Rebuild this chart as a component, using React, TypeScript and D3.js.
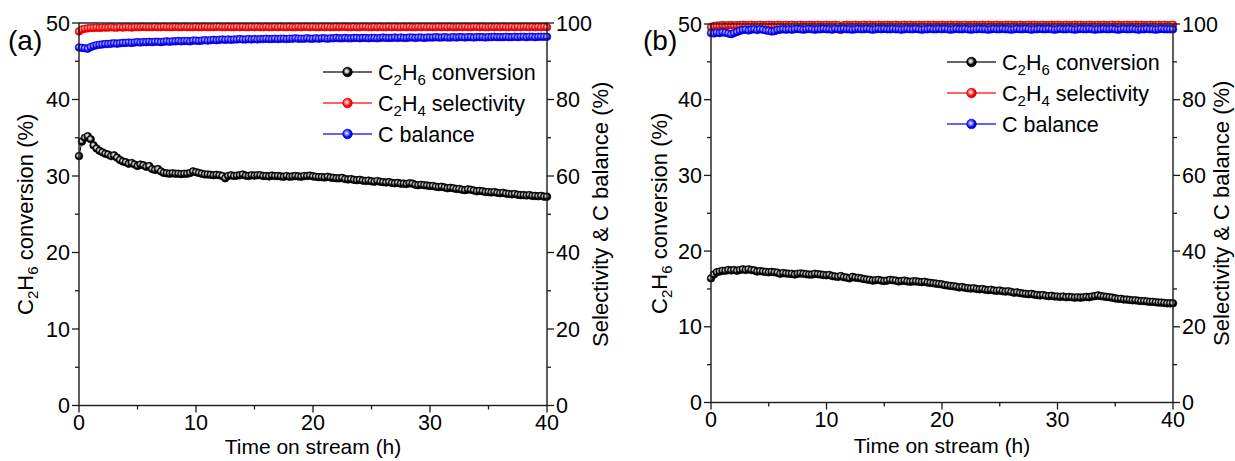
import React from "react";
import * as d3 from "d3";

// ---- data ----
const timeStep = 0.25; // h between samples
const xTicks = [0, 10, 20, 30, 40];
const xMinor = [5, 15, 25, 35];
const leftTicks = [0, 10, 20, 30, 40, 50];
const leftMinor = [5, 15, 25, 35, 45];
const rightTicks = [0, 20, 40, 60, 80, 100];
const rightMinor = [10, 30, 50, 70, 90];

// Panel (a)
const convA = [
  32.6, 34.5, 35.0, 35.2, 34.8, 34.0, 33.6, 33.3, 33.1, 32.9, 32.8, 32.6, 32.7, 32.4, 32.1, 31.9, 31.8, 31.6, 31.7, 31.5,
  31.3, 31.5, 31.4, 31.2, 31.3, 30.9, 30.8, 30.9, 30.6, 30.4, 30.35, 30.3, 30.35, 30.3, 30.3, 30.25, 30.3, 30.3, 30.4, 30.6,
  30.5, 30.4, 30.3, 30.2, 30.2, 30.15, 30.1, 30.15, 30.1, 30.0, 29.7, 30.0, 30.1, 30.0, 30.05, 30.1, 30.2, 30.05, 30.0, 30.1,
  30.05, 30.1, 30.1, 30.0, 30.0, 29.95, 30.05, 30.0, 30.0, 29.95, 29.9, 30.0, 29.9, 29.95, 30.0, 29.95, 29.9, 30.0, 30.0, 30.05,
  29.95, 29.9, 29.85, 29.85, 29.8, 29.9, 29.8, 29.75, 29.7, 29.7, 29.75, 29.6, 29.55, 29.6, 29.5, 29.45, 29.5, 29.4, 29.35, 29.4,
  29.3, 29.25, 29.35, 29.25, 29.2, 29.15, 29.2, 29.1, 29.05, 29.1, 29.0, 29.0, 28.95, 29.05, 29.0, 28.85, 28.8, 28.85, 28.8, 28.75,
  28.7, 28.7, 28.6, 28.55, 28.6, 28.5, 28.4, 28.45, 28.4, 28.3, 28.3, 28.2, 28.15, 28.25, 28.2, 28.1, 28.0, 28.05, 28.0, 27.9,
  27.9, 27.85, 27.9, 27.8, 27.75, 27.8, 27.7, 27.65, 27.6, 27.65, 27.55, 27.5, 27.5, 27.45, 27.5, 27.4, 27.4, 27.35, 27.4, 27.3,
  27.3,
];
const selA = [
  97.8, 98.3, 98.5, 98.6, 98.7, 98.7, 98.8, 98.7, 98.8, 98.8, 98.8, 98.9, 98.8, 98.8, 98.9, 98.8, 98.9, 98.9, 98.8, 98.9,
  98.9, 98.9, 99.0, 98.9, 98.9, 98.9, 99.0, 98.9, 98.9, 99.0, 98.9, 98.9, 98.9, 99.0, 98.9, 98.9, 99.0, 98.9, 98.9, 98.9,
  99.0, 98.9, 98.9, 99.0, 98.9, 98.9, 98.9, 99.0, 99.0, 98.9, 98.9, 99.0, 98.9, 98.9, 99.0, 98.9, 99.0, 98.9, 98.9, 99.0,
  98.9, 99.0, 98.9, 98.9, 99.0, 98.9, 98.9, 99.0, 98.9, 99.0, 98.9, 98.9, 99.0, 98.9, 98.9, 99.0, 98.9, 99.0, 99.0, 98.9,
  99.0, 98.9, 98.9, 99.0, 98.9, 99.0, 98.9, 98.9, 99.0, 98.9, 99.0, 99.0, 98.9, 98.9, 99.0, 98.9, 98.9, 99.0, 99.0, 98.9,
  98.9, 99.0, 98.9, 99.0, 98.9, 98.9, 99.0, 98.9, 99.0, 98.9, 98.9, 99.0, 98.9, 99.0, 98.9, 98.9, 99.0, 98.9, 99.0, 98.9,
  99.0, 98.9, 98.9, 99.0, 98.9, 99.0, 98.9, 99.0, 98.9, 98.9, 99.0, 98.9, 99.0, 98.9, 98.9, 99.0, 99.0, 98.9, 99.0, 98.9,
  98.9, 99.0, 98.9, 99.0, 98.9, 99.0, 98.9, 98.9, 99.0, 98.9, 99.0, 98.9, 99.0, 99.0, 98.9, 99.0, 98.9, 99.0, 98.9, 99.0,
  98.9,
];
const balA = [
  93.6, 93.5, 93.4, 93.3, 93.7, 94.0, 94.2, 94.3, 94.4, 94.5, 94.5, 94.6, 94.7, 94.6, 94.7, 94.8, 94.8, 94.9, 94.8, 94.9,
  95.0, 94.9, 95.0, 95.0, 95.1, 95.0, 95.1, 95.1, 95.0, 95.1, 95.2, 95.1, 95.2, 95.2, 95.3, 95.2, 95.3, 95.3, 95.2, 95.4,
  95.4, 95.3, 95.4, 95.5, 95.4, 95.5, 95.6, 95.5, 95.6, 95.7, 95.6, 95.7, 95.6, 95.7, 95.7, 95.8, 95.7, 95.7, 95.8, 95.7,
  95.8, 95.7, 95.8, 95.8, 95.9, 95.8, 95.8, 95.9, 95.8, 95.9, 95.9, 95.8, 95.9, 95.9, 96.0, 95.9, 95.9, 95.9, 96.0, 95.9,
  95.9, 96.0, 95.9, 96.0, 96.0, 95.9, 96.0, 96.0, 96.1, 96.0, 96.0, 96.1, 96.0, 96.0, 96.1, 96.1, 96.0, 96.1, 96.1, 96.0,
  96.1, 96.1, 96.0, 96.1, 96.2, 96.1, 96.1, 96.1, 96.2, 96.1, 96.2, 96.1, 96.1, 96.2, 96.2, 96.1, 96.2, 96.2, 96.1, 96.2,
  96.2, 96.2, 96.3, 96.2, 96.2, 96.3, 96.2, 96.2, 96.3, 96.2, 96.3, 96.3, 96.2, 96.3, 96.3, 96.2, 96.3, 96.3, 96.3, 96.2,
  96.3, 96.3, 96.4, 96.3, 96.3, 96.3, 96.4, 96.3, 96.3, 96.4, 96.3, 96.4, 96.4, 96.3, 96.4, 96.4, 96.3, 96.4, 96.4, 96.4,
  96.4,
];

// Panel (b)
const convB = [
  16.4, 16.9, 17.2, 17.3, 17.4, 17.4, 17.5, 17.45, 17.5, 17.4, 17.5, 17.6, 17.5, 17.6, 17.5, 17.45, 17.3, 17.35, 17.3, 17.25,
  17.2, 17.25, 17.2, 17.15, 17.0, 17.1, 17.05, 17.0, 17.0, 16.9, 17.0, 17.05, 17.0, 16.95, 16.9, 16.9, 17.0, 16.95, 16.9, 16.85,
  16.8, 16.85, 16.7, 16.65, 16.6, 16.7, 16.55, 16.5, 16.4, 16.6, 16.5, 16.45, 16.4, 16.3, 16.25, 16.2, 16.1, 16.15, 16.2, 16.1,
  16.05, 16.1, 16.2, 16.15, 16.1, 16.0, 16.05, 16.1, 16.0, 15.95, 16.0, 16.0, 15.95, 15.9, 15.95, 15.85, 15.8, 15.75, 15.7, 15.65,
  15.6, 15.5, 15.45, 15.4, 15.35, 15.3, 15.2, 15.25, 15.15, 15.1, 15.05, 15.1, 15.0, 14.95, 15.0, 14.9, 14.85, 14.9, 14.8, 14.75,
  14.8, 14.7, 14.65, 14.7, 14.6, 14.5, 14.55, 14.45, 14.4, 14.35, 14.3, 14.35, 14.25, 14.2, 14.15, 14.2, 14.1, 14.05, 14.1, 14.0,
  14.0, 13.95, 14.0, 13.9, 13.95, 13.9, 13.85, 13.9, 13.85, 13.9, 13.95, 13.9, 14.0, 14.05, 14.15, 14.05, 14.0, 13.95, 13.9, 13.85,
  13.75, 13.7, 13.7, 13.6, 13.6, 13.55, 13.5, 13.5, 13.45, 13.4, 13.4, 13.35, 13.3, 13.3, 13.25, 13.2, 13.2, 13.15, 13.1, 13.1,
  13.1,
];
const selB = [
  99.2, 99.5, 99.6, 99.6, 99.7, 99.6, 99.7, 99.7, 99.6, 99.7, 99.7, 99.8, 99.7, 99.7, 99.8, 99.7, 99.7, 99.8, 99.7, 99.7,
  99.8, 99.7, 99.7, 99.8, 99.7, 99.7, 99.8, 99.7, 99.8, 99.7, 99.7, 99.8, 99.7, 99.7, 99.8, 99.7, 99.7, 99.8, 99.7, 99.7,
  99.8, 99.7, 99.7, 99.8, 99.7, 98.4, 99.7, 99.8, 99.7, 99.7, 99.8, 99.7, 99.7, 99.8, 99.7, 99.8, 99.7, 99.7, 99.8, 99.7,
  99.7, 99.8, 99.7, 99.7, 99.8, 99.7, 99.7, 99.8, 99.7, 99.8, 99.7, 99.7, 99.8, 99.7, 99.7, 99.8, 99.7, 99.8, 99.7, 99.7,
  99.8, 99.7, 99.7, 99.8, 99.7, 99.8, 99.7, 99.7, 99.8, 99.7, 99.7, 99.8, 99.7, 99.7, 99.8, 99.7, 99.8, 99.7, 99.7, 99.8,
  99.7, 99.7, 99.8, 99.7, 99.8, 99.7, 99.7, 99.8, 99.7, 99.7, 99.8, 99.7, 99.8, 99.7, 99.7, 99.8, 99.7, 99.7, 99.8, 99.7,
  99.8, 99.7, 99.7, 99.8, 99.7, 99.7, 99.8, 99.7, 99.8, 99.7, 99.7, 99.8, 99.7, 99.7, 99.8, 99.7, 99.8, 99.7, 99.7, 99.8,
  99.7, 99.8, 99.7, 99.7, 99.8, 99.7, 99.7, 99.8, 99.7, 99.8, 99.7, 99.7, 99.8, 99.7, 99.7, 99.8, 99.7, 99.8, 99.7, 99.7,
  99.8,
];
const balB = [
  97.6, 97.5, 97.7, 97.6, 97.8, 97.7, 97.5, 97.3, 97.6, 97.9, 98.2, 98.4, 98.5, 98.3, 98.5, 98.6, 98.4, 98.6, 98.5, 98.3,
  98.2, 98.0, 98.1, 98.4, 98.5, 98.6, 98.5, 98.6, 98.5, 98.6, 98.7, 98.6, 98.5, 98.6, 98.7, 98.6, 98.5, 98.6, 98.6, 98.7,
  98.6, 98.6, 98.5, 98.7, 98.6, 98.6, 98.7, 98.6, 98.6, 98.5, 98.6, 98.7, 98.6, 98.6, 98.7, 98.6, 98.5, 98.6, 98.7, 98.6,
  98.7, 98.6, 98.6, 98.7, 98.6, 98.6, 98.5, 98.6, 98.7, 98.6, 98.6, 98.7, 98.6, 98.5, 98.6, 98.6, 98.7, 98.6, 98.6, 98.7,
  98.6, 98.7, 98.6, 98.5, 98.6, 98.7, 98.6, 98.6, 98.7, 98.6, 98.5, 98.6, 98.6, 98.7, 98.6, 98.6, 98.5, 98.6, 98.7, 98.6,
  98.6, 98.7, 98.6, 98.6, 98.5, 98.6, 98.7, 98.6, 98.6, 98.7, 98.6, 98.5, 98.6, 98.6, 98.7, 98.6, 98.6, 98.7, 98.6, 98.5,
  98.6, 98.7, 98.6, 98.6, 98.7, 98.6, 98.5, 98.6, 98.7, 98.6, 98.6, 98.7, 98.6, 98.5, 98.6, 98.6, 98.7, 98.6, 98.6, 98.7,
  98.6, 98.5, 98.6, 98.7, 98.6, 98.6, 98.7, 98.6, 98.5, 98.6, 98.6, 98.7, 98.6, 98.6, 98.5, 98.6, 98.7, 98.6, 98.6, 98.6,
  98.6,
];

const FONT = "'Liberation Sans', Arial, Helvetica, sans-serif";
const AXIS = "#1a1a1a";

type Piece = { t: string; sub?: boolean };
const convTitle: Piece[] = [{ t: "C" }, { t: "2", sub: true }, { t: "H" }, { t: "6", sub: true }, { t: " conversion (%)" }];
const convLegend: Piece[] = [{ t: "C" }, { t: "2", sub: true }, { t: "H" }, { t: "6", sub: true }, { t: " conversion" }];
const selLegend: Piece[] = [{ t: "C" }, { t: "2", sub: true }, { t: "H" }, { t: "4", sub: true }, { t: " selectivity" }];
const balLegend: Piece[] = [{ t: "C balance" }];

function Rich({ pieces, subSize }: { pieces: Piece[]; subSize: number }) {
  let prevSub = false;
  return (
    <>
      {pieces.map((pc, i) => {
        let dy = 0;
        if (pc.sub && !prevSub) dy = 5;
        if (!pc.sub && prevSub) dy = -5;
        prevSub = !!pc.sub;
        return (
          <tspan key={i} dy={dy} fontSize={pc.sub ? subSize : undefined} style={{ whiteSpace: "pre" }}>
            {pc.t}
          </tspan>
        );
      })}
    </>
  );
}

function Series({ values, x, y, color, grad, r }: any) {
  const pts = values.map((v: number, i: number) => [x(i * timeStep), y(v)] as [number, number]);
  const line = d3.line()(pts) || "";
  return (
    <g>
      <path d={line} fill="none" stroke={color} strokeWidth={1} />
      {pts.map((p: [number, number], i: number) => (
        <circle key={i} cx={p[0]} cy={p[1]} r={r} fill={`url(#${grad})`} stroke={color} strokeWidth={0.7} />
      ))}
    </g>
  );
}

type PanelProps = {
  label: string;
  x0: number; x1: number; yTop: number; yBot: number;
  conv: number[]; sel: number[]; bal: number[];
  legendX: number; legendY: number;
  leftTitleX: number; rightTitleX: number;
  xTickY: number; xTitleY: number; labelX: number;
};

function Panel(p: PanelProps) {
  const x = d3.scaleLinear().domain([0, 40]).range([p.x0, p.x1]);
  const yL = d3.scaleLinear().domain([0, 50]).range([p.yBot, p.yTop]);
  const yR = d3.scaleLinear().domain([0, 100]).range([p.yBot, p.yTop]);
  const cy = (p.yTop + p.yBot) / 2;
  const cx = (p.x0 + p.x1) / 2;
  const legend = [
    { key: "conv", color: "#000", line: "#333", grad: "gBlack", pieces: convLegend },
    { key: "sel", color: "#e00000", line: "#ff3030", grad: "gRed", pieces: selLegend },
    { key: "bal", color: "#0000e0", line: "#3030ff", grad: "gBlue", pieces: balLegend },
  ];
  return (
    <g fontFamily={FONT} fill="#000">
      <Series values={p.conv} x={x} y={yL} color="#000" grad="gBlack" r={3.8} />
      <Series values={p.sel} x={x} y={yR} color="#e00000" grad="gRed" r={3.8} />
      <Series values={p.bal} x={x} y={yR} color="#0000e0" grad="gBlue" r={3.8} />

      <rect x={p.x0} y={p.yTop} width={p.x1 - p.x0} height={p.yBot - p.yTop} fill="none" stroke={AXIS} strokeWidth={1.4} />

      {leftTicks.map((t) => (
        <g key={"l" + t}>
          <line x1={p.x0 - 7} x2={p.x0} y1={yL(t)} y2={yL(t)} stroke={AXIS} strokeWidth={1.3} />
          <text x={p.x0 - 9} y={yL(t)} dy="0.35em" textAnchor="end" fontSize={21.5}>{t}</text>
        </g>
      ))}
      {leftMinor.map((t) => (
        <line key={"lm" + t} x1={p.x0 - 4} x2={p.x0} y1={yL(t)} y2={yL(t)} stroke={AXIS} strokeWidth={1.3} />
      ))}
      {rightTicks.map((t) => (
        <g key={"r" + t}>
          <line x1={p.x1} x2={p.x1 + 7} y1={yR(t)} y2={yR(t)} stroke={AXIS} strokeWidth={1.3} />
          <text x={p.x1 + 9} y={yR(t)} dy="0.35em" textAnchor="start" fontSize={21.5}>{t}</text>
        </g>
      ))}
      {rightMinor.map((t) => (
        <line key={"rm" + t} x1={p.x1} x2={p.x1 + 4} y1={yR(t)} y2={yR(t)} stroke={AXIS} strokeWidth={1.3} />
      ))}
      {xTicks.map((t) => (
        <g key={"x" + t}>
          <line x1={x(t)} x2={x(t)} y1={p.yBot} y2={p.yBot + 7} stroke={AXIS} strokeWidth={1.3} />
          <text x={x(t)} y={p.xTickY} textAnchor="middle" fontSize={21.5}>{t}</text>
        </g>
      ))}
      {xMinor.map((t) => (
        <line key={"xm" + t} x1={x(t)} x2={x(t)} y1={p.yBot} y2={p.yBot + 4} stroke={AXIS} strokeWidth={1.3} />
      ))}

      <text x={cx} y={p.xTitleY} textAnchor="middle" fontSize={21}>Time on stream (h)</text>
      <text transform={`translate(${p.leftTitleX},${cy}) rotate(-90)`} textAnchor="middle" fontSize={22}>
        <Rich pieces={convTitle} subSize={15} />
      </text>
      <text transform={`translate(${p.rightTitleX},${cy}) rotate(-90)`} textAnchor="middle" fontSize={22}>
        Selectivity &amp; C balance (%)
      </text>
      <text x={p.labelX} y={50} fontSize={28}>{p.label}</text>

      {legend.map((l, i) => {
        const ly = p.legendY + i * 31;
        return (
          <g key={l.key}>
            <line x1={p.legendX} x2={p.legendX + 49} y1={ly} y2={ly} stroke={l.line} strokeWidth={1.3} />
            <circle cx={p.legendX + 24.5} cy={ly} r={4.8} fill={`url(#${l.grad})`} stroke={l.color} strokeWidth={0.7} />
            <text x={p.legendX + 55} y={ly + 7.5} fontSize={21.5}>
              <Rich pieces={l.pieces} subSize={15} />
            </text>
          </g>
        );
      })}
    </g>
  );
}

export default function App() {
  return (
    <svg width={1235} height={461} style={{ position: "absolute", left: 0, top: 0, background: "#fff" }}>
      <defs>
        <radialGradient id="gBlack" cx="0.42" cy="0.42" r="0.6">
          <stop offset="0%" stopColor="#ffffff" />
          <stop offset="28%" stopColor="#bbbbbb" />
          <stop offset="60%" stopColor="#000000" />
        </radialGradient>
        <radialGradient id="gRed" cx="0.42" cy="0.42" r="0.6">
          <stop offset="0%" stopColor="#ffffff" />
          <stop offset="30%" stopColor="#ff8a8a" />
          <stop offset="70%" stopColor="#ee0000" />
        </radialGradient>
        <radialGradient id="gBlue" cx="0.42" cy="0.42" r="0.6">
          <stop offset="0%" stopColor="#ffffff" />
          <stop offset="30%" stopColor="#8a8aff" />
          <stop offset="70%" stopColor="#0000ee" />
        </radialGradient>
      </defs>
      <Panel label="(a)" x0={79} x1={547} yTop={23} yBot={405.5}
        conv={convA} sel={selA} bal={balA}
        legendX={323} legendY={72} leftTitleX={33} rightTitleX={608}
        xTickY={430} xTitleY={454} labelX={8} />
      <Panel label="(b)" x0={711} x1={1173} yTop={24} yBot={402.5}
        conv={convB} sel={selB} bal={balB}
        legendX={947} legendY={62} leftTitleX={667} rightTitleX={1229}
        xTickY={427} xTitleY={453} labelX={643} />
    </svg>
  );
}
